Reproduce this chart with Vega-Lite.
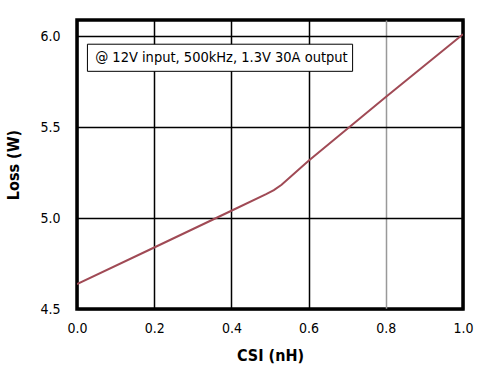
{
  "$schema": "https://vega.github.io/schema/vega-lite/v6.json",
  "width": 386,
  "height": 289,
  "autosize": {"type": "none"},
  "padding": {"left": 77, "top": 20, "right": 35, "bottom": 69},
  "background": "white",
  "config": {
    "view": {"stroke": "black", "strokeWidth": 3.5},
    "font": "DejaVu Sans Condensed, Roboto, sans-serif"
  },
  "datasets": {
    "curve": [
      {"csi": 0.0, "loss": 4.637},
      {"csi": 0.2, "loss": 4.838},
      {"csi": 0.4, "loss": 5.04},
      {"csi": 0.49, "loss": 5.131},
      {"csi": 0.51, "loss": 5.153},
      {"csi": 0.53, "loss": 5.183},
      {"csi": 0.6, "loss": 5.315},
      {"csi": 0.8, "loss": 5.665},
      {"csi": 1.0, "loss": 6.01}
    ],
    "note": [
      {"x1": 0.027, "x2": 0.714, "y1": 5.955, "y2": 5.806, "tx": 0.047, "ty": 5.877, "label": "@ 12V input, 500kHz, 1.3V 30A output"}
    ]
  },
  "layer": [
    {
      "data": {"name": "curve"},
      "mark": {"type": "line", "color": "#a04a55", "strokeWidth": 2, "clip": true},
      "encoding": {
        "x": {
          "field": "csi", "type": "quantitative",
          "scale": {"domain": [0, 1], "nice": false},
          "axis": {
            "title": "CSI (nH)", "values": [0, 0.2, 0.4, 0.6, 0.8, 1.0], "format": ".1f",
            "domain": false, "ticks": false, "labelPadding": 12, "labelFlush": false,
            "labelFontSize": 14, "labelColor": "black", "labelFont": "DejaVu Sans Condensed, Roboto, sans-serif",
            "titleFont": "DejaVu Sans Condensed, Roboto, sans-serif", "titleFontSize": 16, "titleFontWeight": "bold",
            "titleColor": "black", "titlePadding": 12,
            "grid": true, "gridWidth": 1.5,
            "gridColor": {"condition": {"test": "datum.value == 0.8", "value": "#999999"}, "value": "black"},
            "gridOpacity": 1
          }
        },
        "y": {
          "field": "loss", "type": "quantitative",
          "scale": {"domain": [4.5, 6.088], "nice": false, "zero": false},
          "axis": {
            "title": "Loss (W)", "values": [4.5, 5.0, 5.5, 6.0], "format": ".1f",
            "domain": false, "ticks": false, "labelPadding": 17, "labelFlush": false,
            "labelFontSize": 14, "labelColor": "black", "labelFont": "DejaVu Sans Condensed, Roboto, sans-serif",
            "titleFont": "DejaVu Sans Condensed, Roboto, sans-serif", "titleFontSize": 16, "titleFontWeight": "bold",
            "titleColor": "black", "titlePadding": 18,
            "grid": true, "gridWidth": 1.5, "gridColor": "black", "gridOpacity": 1
          }
        }
      }
    },
    {
      "data": {"name": "note"},
      "mark": {"type": "rect", "fill": "white", "stroke": "black", "strokeWidth": 1},
      "encoding": {
        "x": {"field": "x1", "type": "quantitative"},
        "x2": {"field": "x2"},
        "y": {"field": "y1", "type": "quantitative"},
        "y2": {"field": "y2"}
      }
    },
    {
      "data": {"name": "note"},
      "mark": {"type": "text", "align": "left", "baseline": "middle", "fontSize": 14.5, "font": "DejaVu Sans Condensed, Roboto, sans-serif", "color": "black"},
      "encoding": {
        "x": {"field": "tx", "type": "quantitative"},
        "y": {"field": "ty", "type": "quantitative"},
        "text": {"field": "label"}
      }
    }
  ]
}
